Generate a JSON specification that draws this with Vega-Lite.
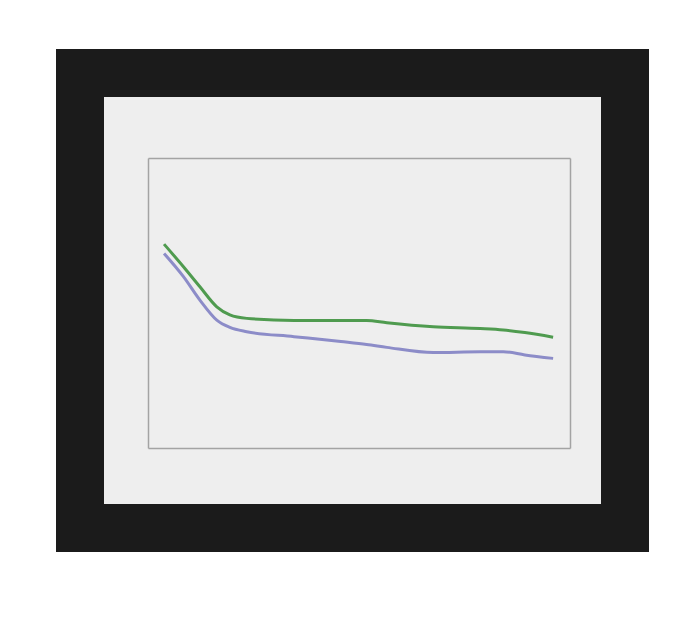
{
  "$schema": "https://vega.github.io/schema/vega-lite/v6.json",
  "width": 545, "height": 455,
  "autosize": "none",
  "padding": {"left": 80, "top": 73, "right": 75, "bottom": 93},
  "background": "#ffffff",
  "config": {
    "view": {"fill": "#eeeeee", "stroke": "#1b1b1b", "strokeWidth": 48},
    "axis": {"labels": false, "ticks": false, "grid": false, "title": null, "domainColor": "#a3a3a3", "domainWidth": 1.5}
  },
  "data": {"values": [
    {"t": 3.8, "value": 70.3, "series": "A"},
    {"t": 8.4, "value": 62.5, "series": "A"},
    {"t": 12.3, "value": 55.6, "series": "A"},
    {"t": 16.3, "value": 48.7, "series": "A"},
    {"t": 19.4, "value": 45.9, "series": "A"},
    {"t": 23.4, "value": 44.7, "series": "A"},
    {"t": 34.6, "value": 44.0, "series": "A"},
    {"t": 45.7, "value": 44.0, "series": "A"},
    {"t": 51.8, "value": 44.0, "series": "A"},
    {"t": 56.6, "value": 43.2, "series": "A"},
    {"t": 67.6, "value": 41.8, "series": "A"},
    {"t": 78.7, "value": 41.2, "series": "A"},
    {"t": 84.2, "value": 40.7, "series": "A"},
    {"t": 89.3, "value": 39.8, "series": "A"},
    {"t": 96.0, "value": 38.2, "series": "A"},
    {"t": 3.8, "value": 67.1, "series": "B"},
    {"t": 8.4, "value": 59.1, "series": "B"},
    {"t": 12.3, "value": 51.0, "series": "B"},
    {"t": 16.3, "value": 44.1, "series": "B"},
    {"t": 19.4, "value": 41.6, "series": "B"},
    {"t": 23.4, "value": 40.1, "series": "B"},
    {"t": 34.6, "value": 38.4, "series": "B"},
    {"t": 45.7, "value": 36.7, "series": "B"},
    {"t": 51.8, "value": 35.7, "series": "B"},
    {"t": 56.6, "value": 34.7, "series": "B"},
    {"t": 67.6, "value": 32.9, "series": "B"},
    {"t": 78.7, "value": 33.2, "series": "B"},
    {"t": 84.2, "value": 33.2, "series": "B"},
    {"t": 89.3, "value": 32.1, "series": "B"},
    {"t": 96.0, "value": 30.9, "series": "B"}
  ]},
  "resolve": {"axis": {"x": "independent", "y": "independent"}},
  "layer": [
    {
      "transform": [{"filter": "datum.series === 'A'"}],
      "mark": {"type": "line", "interpolate": "monotone", "color": "#4f9b4f", "strokeWidth": 3},
      "encoding": {
        "x": {"field": "t", "type": "quantitative", "scale": {"domain": [0, 100], "range": [68, 490], "nice": false}, "axis": {"orient": "bottom", "offset": -80}},
        "y": {"field": "value", "type": "quantitative", "scale": {"domain": [0, 100], "range": [375, 85], "nice": false}, "axis": {"orient": "left", "offset": -68}}
      }
    },
    {
      "transform": [{"filter": "datum.series === 'B'"}],
      "mark": {"type": "line", "interpolate": "monotone", "color": "#8c8cc8", "strokeWidth": 3},
      "encoding": {
        "x": {"field": "t", "type": "quantitative", "axis": {"orient": "top", "offset": -85}},
        "y": {"field": "value", "type": "quantitative", "axis": {"orient": "right", "offset": -55}}
      }
    }
  ]
}
